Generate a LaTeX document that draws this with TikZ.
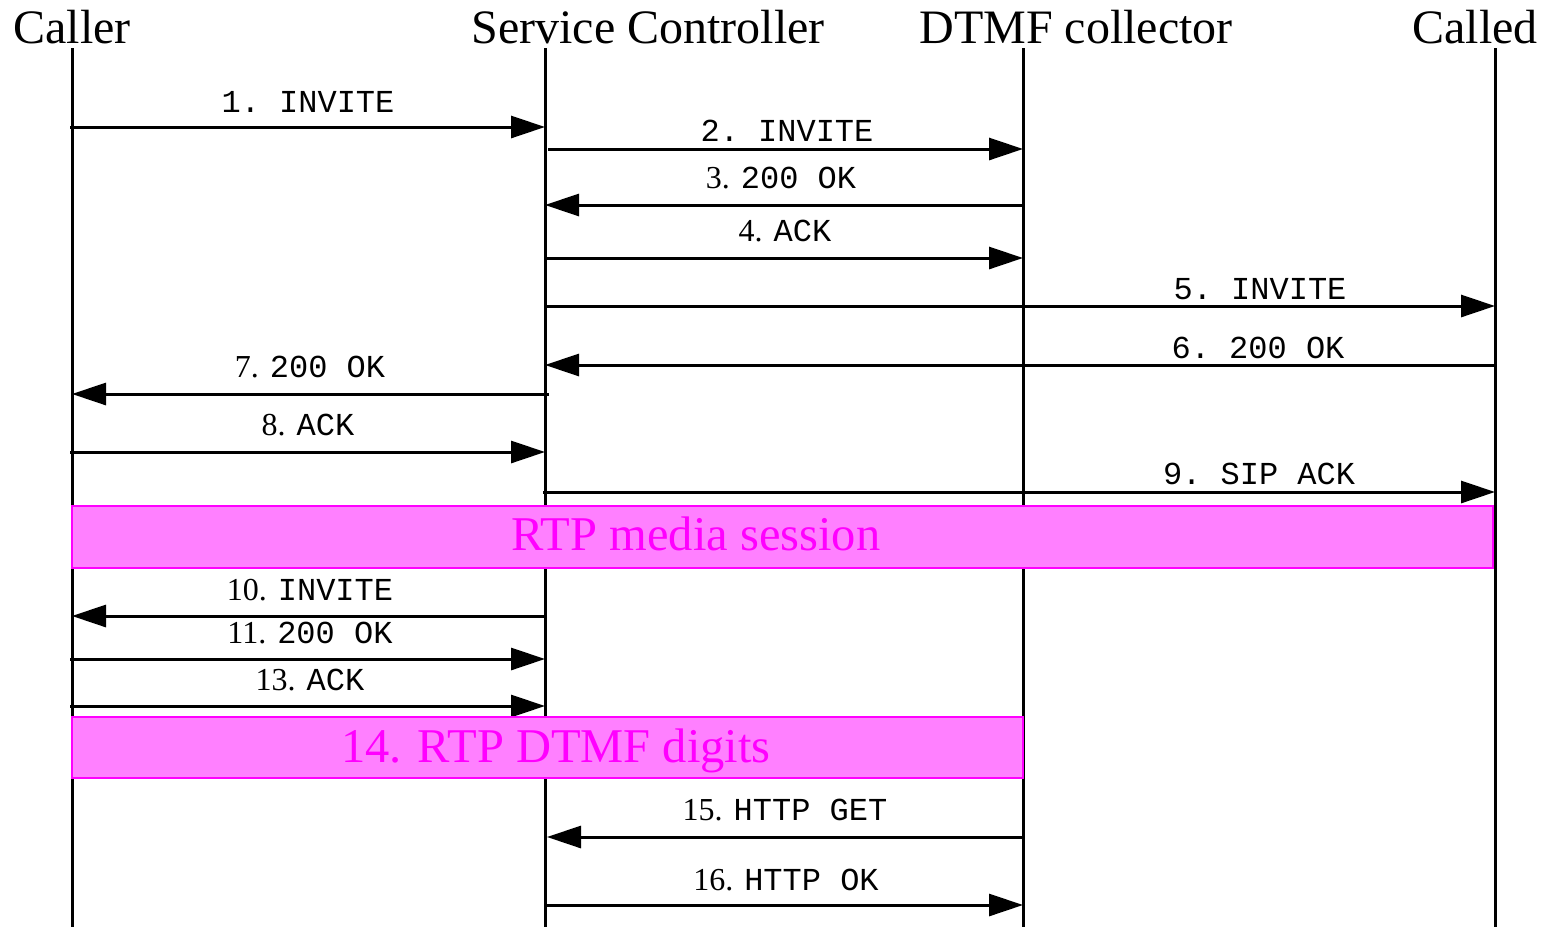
\documentclass[tikz,border=0pt]{standalone}
\usepackage{fontspec}
\setmainfont{Liberation Serif}
\setmonofont{Liberation Mono}
\usetikzlibrary{arrows.meta}
\definecolor{mag}{HTML}{FF00FF}
\definecolor{magfill}{HTML}{FF80FF}
\newcommand{\hdrfont}{\fontsize{48}{52}\selectfont}
\newcommand{\labfont}{\fontsize{32}{36}\selectfont}
\newcommand{\mlab}[2]{{\labfont\rmfamily #1}\hspace{11pt}\texttt{#2}}
\tikzset{
  lifeline/.style={line width=3pt},
  msg/.style={line width=3pt, -{Triangle[length=34pt,width=22pt]}},
  hdr/.style={anchor=base, inner sep=0pt, font=\hdrfont},
  lab/.style={anchor=base, inner sep=0pt, font=\labfont\ttfamily},
  band/.style={draw=mag, fill=magfill, line width=2pt},
  bandtext/.style={anchor=base, inner sep=0pt, font=\fontsize{48.5}{52}\selectfont, text=mag}
}
\begin{document}
\begin{tikzpicture}[x=1pt,y=-1pt]
\useasboundingbox (0,0) rectangle (1544,927);
% headers
\node[hdr] (hcaller) at (72,43) {Caller};
\node[hdr] (hsc) at (648,43) {Service Controller};
\node[hdr] (hdtmf) at (1076,43) {DTMF collector};
\node[hdr] (hcalled) at (1475,43) {Called};
% lifelines
\coordinate (A) at (72,48);   \coordinate (Ab) at (72,927);
\coordinate (B) at (545,48);  \coordinate (Bb) at (545,927);
\coordinate (C) at (1023,48); \coordinate (Cb) at (1023,927);
\coordinate (D) at (1495,48); \coordinate (Db) at (1495,927);
\draw[lifeline] (A) -- (Ab);
\draw[lifeline] (B) -- (Bb);
\draw[lifeline] (C) -- (Cb);
\draw[lifeline] (D) -- (Db);
% messages
\draw[msg] ([xshift=-2pt]A |- 0,127) -- (B |- 0,127);
\node[lab] (l1) at (308,112) {1. INVITE};
\draw[msg] ([xshift=3pt]B |- 0,149) -- (C |- 0,149);
\node[lab] (l2) at (787,141) {2. INVITE};
\draw[msg] (C |- 0,205) -- (B |- 0,205);
\node[lab] (l3) at (781,188) {\mlab{3.}{200 OK}};
\draw[msg] (B |- 0,258) -- (C |- 0,258);
\node[lab] (l4) at (785,241) {\mlab{4.}{ACK}};
\draw[msg] (B |- 0,306) -- (D |- 0,306);
\node[lab] (l5) at (1260,299) {5. INVITE};
\draw[msg] (D |- 0,365) -- (B |- 0,365);
\node[lab] (l6) at (1258,358) {6. 200 OK};
\draw[msg] ([xshift=4pt]B |- 0,394) -- (A |- 0,394);
\node[lab] (l7) at (310,377) {\mlab{7.}{200 OK}};
\draw[msg] ([xshift=-2pt]A |- 0,452) -- (B |- 0,452);
\node[lab] (l8) at (308,435) {\mlab{8.}{ACK}};
\draw[msg] ([xshift=-2pt]B |- 0,492) -- (D |- 0,492);
\node[lab] (l9) at (1259,484) {9. SIP ACK};
% RTP media session band
\draw[band] (72,506) rectangle (1493,568);
\node[bandtext] (rtp) at (696,550) {RTP media session};
\draw[msg] ([xshift=2pt]B |- 0,616) -- (A |- 0,616);
\node[lab] (l10) at (310,600) {\mlab{10.}{INVITE}};
\draw[msg] ([xshift=-2pt]A |- 0,659) -- (B |- 0,659);
\node[lab] (l11) at (310,643) {\mlab{11.}{200 OK}};
\draw[msg] ([xshift=-2pt]A |- 0,706) -- (B |- 0,706);
\node[lab] (l13) at (310,690) {\mlab{13.}{ACK}};
% DTMF band
\draw[band] (72,717) rectangle (1023,778);
\node[bandtext] (dtmf) at (556,762) {14. RTP DTMF digits};
\draw[msg] (C |- 0,837) -- ([xshift=2pt]B |- 0,837);
\node[lab] (l15) at (785,820) {\mlab{15.}{HTTP GET}};
\draw[msg] (B |- 0,905) -- (C |- 0,905);
\node[lab] (l16) at (786,890) {\mlab{16.}{HTTP OK}};
\end{tikzpicture}
\end{document}
